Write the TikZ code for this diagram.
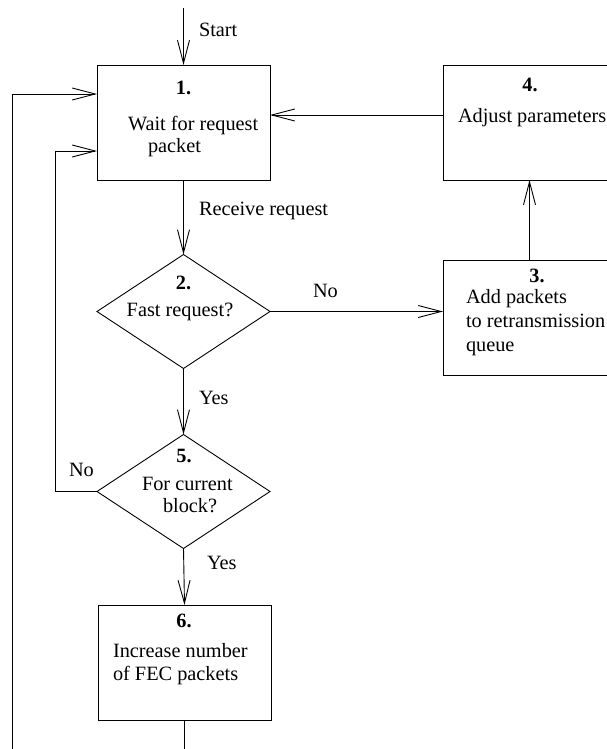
\documentclass[tikz,border=0pt]{standalone}
\usepackage{fontspec}
\setmainfont{Liberation Serif}
\usetikzlibrary{arrows.meta,shapes.geometric}
\begin{document}
\begin{tikzpicture}[x=1pt,y=-1pt,
  every node/.style={font=\fontsize{20.3}{24}\selectfont, inner sep=0pt, outer sep=0pt},
  box/.style={draw, line width=0.9pt, minimum width=173pt, minimum height=115pt, anchor=north west},
  decision/.style={draw, diamond, line width=0.9pt, minimum width=173pt, minimum height=114pt},
  flow/.style={draw, line width=0.9pt, -{Straight Barb[length=23pt,width=12pt]}},
  plain/.style={draw, line width=0.9pt},
  txt/.style={anchor=base west},
  num/.style={anchor=base, font=\fontsize{20.3}{24}\selectfont\bfseries},
]
\useasboundingbox (0,0) rectangle (606,749);

% process boxes and decisions
\node[box] (b1) at (97,65) {};
\node[box] (b4) at (443,65) {};
\node[box] (b3) at (443,260) {};
\node[box] (b6) at (98,605) {};
\node[decision] (d2) at (183.5,311.5) {};
\node[decision] (d5) at (183.5,491.5) {};

% box texts
\node[num] (n1) at (183.5,95) {1.};
\node[txt] (t1a) at (128,131) {Wait for request};
\node[txt] (t1b) at (148,152) {packet};
\node[num] (n4) at (530,92) {4.};
\node[txt] (t4) at (458,123) {Adjust parameters};
\node[num] (n3) at (537,282) {3.};
\node[txt] (t3a) at (466,303) {Add packets};
\node[txt] (t3b) at (466,327) {to retransmission};
\node[txt] (t3c) at (466,351) {queue};
\node[num] (n2) at (183.5,289) {2.};
\node[anchor=base] (t2) at (180,316) {Fast request?};
\node[num] (n5) at (184,462) {5.};
\node[txt] (t5a) at (142,490) {For current};
\node[txt] (t5b) at (163,512) {block?};
\node[num] (n6) at (184,627) {6.};
\node[txt] (t6a) at (113,657) {Increase number};
\node[txt] (t6b) at (113,680) {of FEC packets};

% connectors
\coordinate (start) at (183.5,8);
\draw[flow] (start) -- (b1.north);
\node[txt] (lstart) at (199,37) {Start};

\draw[flow] (b1.south) -- (d2.north);
\node[txt] (lrecv) at (199,215) {Receive request};

\draw[flow] (d2.east) -- (d2.east -| b3.west);
\node[txt] (lno2) at (313,297) {No};

\draw[flow] (b3.north) -- (b4.south);

\coordinate (p4) at ([yshift=-50pt]b4.north west);
\draw[flow] (p4) -- (p4 -| b1.east);

\draw[flow] (d2.south) -- (d5.north);
\node[txt] (lyes2) at (199,404) {Yes};

\coordinate (in1) at ([yshift=-86pt]b1.north west);
\draw[flow] (d5.west) -- ++(-42,0) |- (in1);
\node[txt] (lno5) at (69,476) {No};

\draw[flow] (d5.south) -- (b6.north);
\node[txt] (lyes5) at (207,569) {Yes};

\coordinate (exit) at (184.5,749);
\draw[plain] (b6.south) -- (exit);

\coordinate (loop) at (12,749);
\coordinate (in2) at ([yshift=-29pt]b1.north west);
\draw[flow] (loop) |- (in2);
\end{tikzpicture}
\end{document}
